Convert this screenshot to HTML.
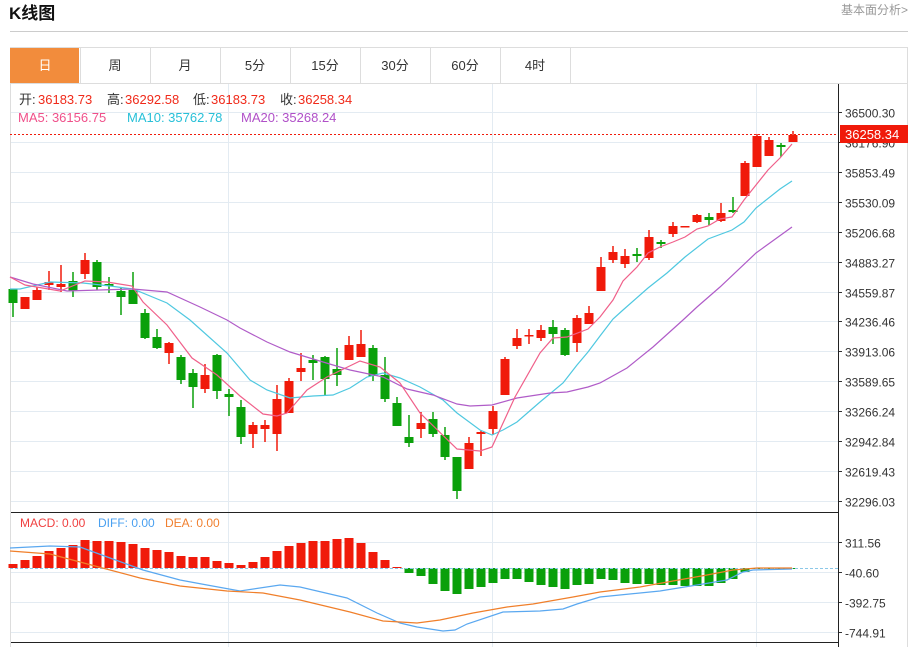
<!DOCTYPE html>
<html><head><meta charset="utf-8"><style>
html,body{margin:0;padding:0;background:#fff;width:917px;height:647px;overflow:hidden;font-family:"Liberation Sans","Noto Sans CJK SC",sans-serif}
</style></head><body>
<svg id="s" width="917" height="647" xmlns="http://www.w3.org/2000/svg" font-family="Liberation Sans, Noto Sans CJK SC, sans-serif">
<text x="9" y="19" font-size="17" font-weight="bold" fill="#111">K线图</text>
<text x="908" y="14" font-size="12" fill="#999" text-anchor="end">基本面分析&gt;</text>
<line x1="10" y1="31.5" x2="908" y2="31.5" stroke="#ccc"/>
<rect x="10.5" y="47.5" width="897" height="600" fill="none" stroke="#ddd"/>
<line x1="10" y1="83.5" x2="908" y2="83.5" stroke="#ddd"/>
<rect x="10" y="48" width="69" height="35" fill="#f28c3c"/>
</svg>
<script>
var S=document.getElementById('s'),NS='http://www.w3.org/2000/svg';
function el(t,a,txt,p){var e=document.createElementNS(NS,t);for(var k in a)e.setAttribute(k,a[k]);if(txt!=null)e.textContent=txt;(p||S).appendChild(e);return e;}
var tabs=['日','周','月','5分','15分','30分','60分','4时'];
tabs.forEach(function(t,i){var x=10+70*i;if(i>0)el('line',{x1:x+0.5,y1:48,x2:x+0.5,y2:83,stroke:'#ddd'});el('text',{x:x+35,y:70,'font-size':13,fill:i==0?'#fff':'#333','text-anchor':'middle'},t);});
el('line',{x1:570.5,y1:48,x2:570.5,y2:83,stroke:'#ddd'});
[228,492,756].forEach(function(x){el('line',{x1:x+.5,y1:84,x2:x+.5,y2:647,stroke:'#e3ebf2'});});
var pl=['36500.30','36176.90','35853.49','35530.09','35206.68','34883.27','34559.87','34236.46','33913.06','33589.65','33266.24','32942.84','32619.43','32296.03'];
pl.forEach(function(l,i){var y=Math.round(112+i*29.92)+.5;el('line',{x1:10,y1:y,x2:838,y2:y,stroke:'#e3ebf2'});el('line',{x1:838,y1:y,x2:842,y2:y,stroke:'#333'});el('text',{x:845,y:y+5,'font-size':12,fill:'#333'},l);});
var ml=[['311.56',542],['-40.60',572],['-392.75',602],['-744.91',632]];
ml.forEach(function(m){var y=m[1]+.5;el('line',{x1:10,y1:y,x2:838,y2:y,stroke:'#e3ebf2'});el('line',{x1:838,y1:y,x2:842,y2:y,stroke:'#333'});el('text',{x:845,y:y+5,'font-size':12,fill:'#333'},m[0]);});
el('line',{x1:838.5,y1:84,x2:838.5,y2:647,stroke:'#222'});
el('line',{x1:10,y1:512.5,x2:838,y2:512.5,stroke:'#222'});
el('line',{x1:10,y1:642.5,x2:838,y2:642.5,stroke:'#222'});
el('line',{x1:10.5,y1:84,x2:10.5,y2:647,stroke:'#ddd'});
[['开:',19,'#333'],['36183.73',38,'#f02a1a'],['高:',107,'#333'],['36292.58',125,'#f02a1a'],['低:',193,'#333'],['36183.73',211,'#f02a1a'],['收:',280,'#333'],['36258.34',298,'#f02a1a']].forEach(function(p){el('text',{x:p[1],y:104,'font-size':13,fill:p[2]},p[0]);});
el('text',{x:18,y:122,'font-size':13,fill:'#f0508a'},'MA5: 36156.75');
el('text',{x:127,y:122,'font-size':13,fill:'#28c0d8'},'MA10: 35762.78');
el('text',{x:241,y:122,'font-size':13,fill:'#b050c8'},'MA20: 35268.24');
el('text',{x:20,y:527,'font-size':12,fill:'#f04040'},'MACD: 0.00');
el('text',{x:98,y:527,'font-size':12,fill:'#4aa0f0'},'DIFF: 0.00');
el('text',{x:165,y:527,'font-size':12,fill:'#f08030'},'DEA: 0.00');
var mb=[564,560,556,551,548,545,540,541,541,542,544,548,550,552,556,557,557,561,563,565,562,557,551,546,543,541,541,539,538,543,552,560,567,573,576,584,591,594,589,587,583,579,579,582,585,587,589,585,584,579,580,583,584,584,585,585,586,586,586,583,579,572,569,569,568,568];
mb.forEach(function(y,i){var x=13+12*i;var z=568;var t=Math.min(y,z),h=Math.max(Math.abs(y-z),1);el('rect',{x:x-4.5,y:t,width:9,height:h,fill:y<z?'#f01a0a':'#0aa00a'});});
el('line',{x1:10,y1:568.5,x2:838,y2:568.5,stroke:'#8cc8e8','stroke-dasharray':'3,2'});
function pl_(pts,c){el('polyline',{points:pts.map(function(p){return p.join(',')}).join(' '),fill:'none',stroke:c,'stroke-width':1.2});}
pl_([[10,548],[50,546],[80,547],[110,558],[143,570],[180,580],[207,585],[240,591],[280,585],[300,587],[347,598],[377,613],[400,623],[417,627],[443,631],[455,630],[467,624],[503,612],[540,611],[563,609],[577,604],[600,597],[660,591],[703,584],[727,580],[743,572],[753,570],[792,569]],'#5aa8f0');
pl_([[10,551],[50,554],[80,562],[110,570],[140,578],[180,586],[227,591],[263,593],[300,600],[350,612],[383,621],[417,623],[440,620],[473,613],[507,607],[533,604],[573,597],[600,592],[640,587],[673,581],[707,575],[733,570],[757,568],[792,568]],'#f07f2a');
var c=[[289,303,289,317,'g'],[297,309,297,309,'r'],[290,300,287,300,'r'],[282,285,271,290,'r'],[284,287,265,292,'r'],[281,291,272,297,'g'],[260,274,253,279,'r'],[262,287,260,290,'g'],[284,286,277,293,'g'],[291,297,288,315,'g'],[290,304,272,304,'g'],[313,338,309,339,'g'],[337,348,329,349,'g'],[343,353,342,364,'r'],[357,380,355,384,'g'],[373,387,369,408,'g'],[375,389,364,393,'r'],[355,391,354,399,'g'],[394,397,389,416,'g'],[407,437,400,444,'g'],[425,434,422,448,'r'],[425,429,420,442,'r'],[399,434,385,451,'r'],[381,413,378,413,'r'],[368,372,353,381,'r'],[360,363,355,380,'g'],[357,379,356,395,'g'],[369,375,348,386,'g'],[345,360,336,360,'r'],[344,357,330,357,'r'],[348,376,345,381,'g'],[375,399,357,402,'g'],[403,426,397,426,'g'],[437,443,415,447,'g'],[423,429,412,438,'r'],[419,434,412,437,'g'],[435,457,427,460,'g'],[457,491,457,499,'g'],[443,469,437,469,'r'],[432,434,430,456,'r'],[411,429,406,435,'r'],[359,395,357,395,'r'],[338,346,329,349,'r'],[335,336,329,344,'r'],[330,338,325,341,'r'],[327,334,320,344,'g'],[330,355,328,356,'g'],[318,343,315,352,'r'],[313,324,306,324,'r'],[267,291,257,291,'r'],[252,260,246,263,'r'],[256,264,249,268,'r'],[254,256,248,262,'g'],[237,258,230,260,'r'],[242,244,240,248,'g'],[226,234,222,237,'r'],[226,227,226,227,'r'],[215,222,214,223,'r'],[217,220,213,225,'g'],[213,221,203,222,'r'],[210,212,197,213,'g'],[163,196,161,196,'r'],[136,167,134,167,'r'],[140,156,137,156,'r'],[145,147,143,157,'g'],[135,142,131,142,'r']];
c.forEach(function(d,i){var x=13+12*i,col=d[4]=='r'?'#f01a0a':'#0aa00a';el('line',{x1:x,y1:d[2],x2:x,y2:d[3],stroke:col,'stroke-width':1.5});el('rect',{x:x-4.5,y:d[0],width:9,height:Math.max(d[1]-d[0],1.5),fill:col});});
pl_([[10,289],[20,289],[50,282],[83,283],[110,286],[133,289],[167,303],[190,320],[227,353],[250,380],[267,390],[290,398],[313,396],[333,395],[350,388],[367,377],[383,373],[400,378],[420,387],[443,400],[457,413],[480,430],[492,435],[503,430],[517,422],[540,402],[563,383],[577,365],[588,352],[600,336],[613,319],[623,310],[648,288],[667,273],[685,257],[708,239],[732,230],[744,222],[756,208],[780,189],[792,181]],'#4fc8e0');
pl_([[10,277],[33,284],[67,291],[133,289],[167,292],[200,307],[227,320],[240,328],[267,342],[290,352],[333,365],[350,370],[383,377],[407,389],[433,395],[457,404],[470,406],[492,405],[517,398],[550,393],[567,392],[588,387],[600,383],[627,368],[653,347],[683,320],[697,307],[720,287],[756,253],[792,227]],'#b05cc8');
pl_([[10,277],[25,285],[60,291],[85,281],[107,282],[132,286],[143,302],[167,325],[192,358],[217,375],[240,396],[263,414],[277,416],[287,413],[307,390],[327,377],[360,361],[380,367],[400,383],[420,413],[457,449],[480,451],[492,447],[515,397],[540,353],[553,338],[567,337],[588,329],[600,317],[613,300],[623,281],[637,267],[648,253],[660,247],[673,242],[685,237],[697,229],[708,226],[720,219],[732,217],[744,200],[756,185],[768,170],[780,158],[792,144]],'#f0608a');
el('line',{x1:10,y1:134.5,x2:838,y2:134.5,stroke:'#f01a0a','stroke-dasharray':'2,2'});
el('rect',{x:840,y:125,width:68,height:18,fill:'#f01a0a'});
el('text',{x:845,y:139,'font-size':13,fill:'#fff'},'36258.34');
</script>
</body></html>
